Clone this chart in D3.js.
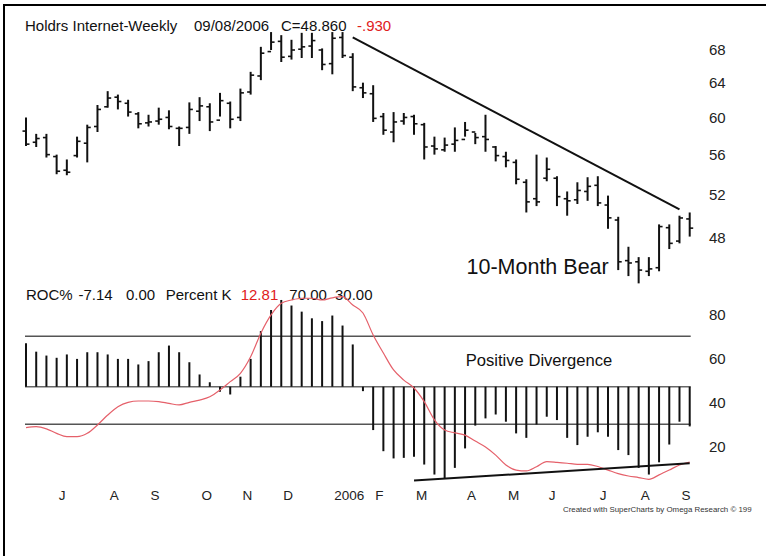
<!DOCTYPE html>
<html><head><meta charset="utf-8">
<script src="https://cdn.jsdelivr.net/npm/d3@7"></script>
<style>
html,body{margin:0;padding:0;background:#fff;}
svg{display:block;font-family:"Liberation Sans",Arial,sans-serif;}
</style></head><body>
<svg id="c" width="766" height="556"></svg>
<script>
const dates = ["2005-06-10","2005-06-17","2005-06-24","2005-07-01","2005-07-08","2005-07-15","2005-07-22","2005-07-29",
"2005-08-05","2005-08-12","2005-08-19","2005-08-26","2005-09-02","2005-09-09","2005-09-16","2005-09-23","2005-09-30",
"2005-10-07","2005-10-14","2005-10-21","2005-10-28","2005-11-04","2005-11-11","2005-11-18","2005-11-25",
"2005-12-02","2005-12-09","2005-12-16","2005-12-23","2005-12-30","2006-01-06","2006-01-13","2006-01-20","2006-01-27",
"2006-02-03","2006-02-10","2006-02-17","2006-02-24","2006-03-03","2006-03-10","2006-03-17","2006-03-24","2006-03-31",
"2006-04-07","2006-04-14","2006-04-21","2006-04-28","2006-05-05","2006-05-12","2006-05-19","2006-05-26",
"2006-06-02","2006-06-09","2006-06-16","2006-06-23","2006-06-30","2006-07-07","2006-07-14","2006-07-21","2006-07-28",
"2006-08-04","2006-08-11","2006-08-18","2006-08-25","2006-09-01","2006-09-08"];

const high = [60.0,58.2,58.2,56.0,55.5,57.9,59.2,61.4,63.0,62.6,62.0,60.6,60.3,61.1,60.8,59.0,61.7,62.3,61.6,62.8,61.8,63.3,65.3,68.4,70.3,69.9,69.3,70.2,70.2,68.2,70.3,70.3,67.6,64.0,63.7,60.5,60.6,60.5,60.3,59.4,57.9,57.8,58.9,59.5,58.3,60.3,56.9,56.3,55.5,53.5,56.0,55.7,53.8,52.3,53.2,53.7,53.8,51.9,49.9,47.2,46.3,46.3,49.2,49.2,50.0,50.3];
const low  = [56.9,56.8,55.7,54.0,53.9,55.7,55.2,58.4,61.1,60.9,60.1,58.8,59.0,59.2,58.7,56.9,58.2,59.6,58.5,60.1,58.8,59.6,62.6,64.3,68.0,66.5,66.8,67.0,67.0,65.5,65.0,67.0,63.0,62.2,59.5,58.1,57.3,59.2,58.1,55.5,56.0,56.3,56.3,57.9,57.1,56.3,55.3,54.7,53.0,50.3,50.9,53.3,50.9,50.0,51.1,51.4,50.9,48.8,45.2,44.7,44.1,44.7,45.1,47.0,47.5,48.1];
const open = [58.5,57.3,57.8,55.8,54.4,55.9,57.2,59.0,61.2,62.3,61.6,60.4,59.4,59.6,60.0,58.8,58.9,60.7,61.2,59.7,61.6,60.0,62.9,64.8,67.8,69.1,67.2,68.1,68.5,68.0,66.3,69.6,67.1,63.4,62.7,60.1,58.4,59.6,60.1,59.2,56.9,56.5,57.1,57.6,58.4,57.9,56.8,55.8,55.2,53.2,51.6,53.6,53.6,51.6,51.5,52.3,52.9,51.0,49.6,46.0,45.9,45.1,45.4,48.9,47.7,49.7];
const close= [57.1,57.7,56.0,54.3,54.2,57.4,58.9,60.9,62.2,61.8,60.6,59.3,59.5,59.8,59.0,58.8,60.9,61.3,59.5,61.9,59.8,62.8,64.9,67.6,69.0,67.1,68.0,68.4,69.2,66.2,69.5,67.3,63.5,62.8,59.9,58.6,59.5,60.0,59.3,56.8,56.6,57.0,57.5,58.6,57.8,57.6,55.9,55.4,53.5,51.3,51.3,54.5,51.8,51.4,52.4,52.8,51.2,49.8,45.9,45.8,45.2,45.3,49.0,47.5,49.79,48.86];

const roc = [7.8,6.3,5.6,5.2,5.8,5.0,6.2,6.2,5.8,5.0,5.0,4.0,4.6,6.2,7.4,6.2,4.4,2.2,0.8,-0.9,-1.4,1.8,5.0,10.0,13.8,15.6,14.6,13.5,12.3,11.8,12.8,11.0,7.6,-0.8,-7.8,-11.6,-12.9,-12.8,-12.6,-14.0,-15.8,-16.5,-14.6,-11.1,-7.0,-5.7,-5.0,-6.3,-8.4,-9.2,-6.8,-5.4,-6.0,-9.2,-10.5,-9.0,-8.2,-9.0,-11.4,-12.3,-14.6,-15.8,-13.6,-10.4,-6.3,-7.14];

const pctK = [28.5,28.9,27.9,25.9,24.4,24.4,25.9,29.7,34.2,38.0,40.0,40.6,40.6,40.3,39.5,38.8,40.0,41.0,42.5,45.6,49.4,53.2,60.7,71.4,79.7,85.0,86.5,87.3,87.3,86.5,87.5,88.0,84.2,80.6,70.6,62.4,54.7,50.1,46.5,40.3,32.0,27.4,26.1,25.1,22.4,19.7,16.0,11.5,9.2,8.8,10.7,13.0,12.7,12.3,11.8,11.8,10.8,9.2,7.6,6.5,5.8,5.0,7.0,9.2,11.5,12.81];

const priceTicks = [48,52,56,60,64,68];
const kTicks = [20,40,60,80];
const kLevels = [70,30];
const monthLabels = ["J","A","S","O","N","D","2006","F","M","A","M","J","J","A","S"];
const resistance = [["2006-01-20",69.6],["2006-09-01",50.6]];
const divergence = [["2006-03-03",4.4],["2006-09-08",12.3]];

const parse = d3.timeParse("%Y-%m-%d");
const dts = dates.map(parse);
const bars = dts.map((d,i)=>({d,h:high[i],l:low[i],o:open[i],c:close[i],r:roc[i],k:pctK[i]}));

const svg = d3.select("#c");
const x = d3.scaleTime().domain([dts[0], dts[dts.length-1]]).range([26, 689.7]);
const yP = d3.scaleLog().domain([48,68]).range([237.7,50]);
const yK = d3.scaleLinear().domain([20,80]).range([446.3,314.3]);
const yR = d3.scaleLinear().domain([-10,10]).range([442.3,331.1]);

// frame
svg.append("line").attr("x1",3).attr("x2",766).attr("y1",5).attr("y2",5).attr("stroke","#000").attr("stroke-width",2);
svg.append("line").attr("x1",4).attr("x2",4).attr("y1",4).attr("y2",556).attr("stroke","#000").attr("stroke-width",2);

// header texts
const hdr = svg.append("g").attr("font-size",15).attr("fill","#111");
[["Holdrs Internet-Weekly",25,"#111"],["09/08/2006",194,"#111"],["C=48.860",281,"#111"],["-.930",357,"#e0201c"]]
  .forEach(([t,xx,col])=>hdr.append("text").attr("x",xx).attr("y",30.5).attr("fill",col).text(t));

// price bars
const pb = svg.append("g").attr("stroke","#111");
pb.selectAll("line.v").data(bars).join("line").attr("class","v")
  .attr("x1",d=>x(d.d)).attr("x2",d=>x(d.d)).attr("y1",d=>yP(d.h)).attr("y2",d=>yP(d.l)).attr("stroke-width",2);
pb.selectAll("line.o").data(bars).join("line").attr("class","o")
  .attr("x1",d=>x(d.d)-3.5).attr("x2",d=>x(d.d)).attr("y1",d=>yP(d.o)).attr("y2",d=>yP(d.o)).attr("stroke-width",1.6);
pb.selectAll("line.c").data(bars).join("line").attr("class","c")
  .attr("x1",d=>x(d.d)).attr("x2",d=>x(d.d)+3.5).attr("y1",d=>yP(d.c)).attr("y2",d=>yP(d.c)).attr("stroke-width",1.6);

// resistance line
svg.append("line")
  .attr("x1",x(parse(resistance[0][0]))).attr("y1",yP(resistance[0][1]))
  .attr("x2",x(parse(resistance[1][0]))).attr("y2",yP(resistance[1][1]))
  .attr("stroke","#111").attr("stroke-width",2);

// price axis
const pa = svg.append("g").attr("transform","translate(706,0)")
  .call(d3.axisRight(yP).tickValues(priceTicks).tickSize(0).tickFormat(d3.format("d")));
pa.select(".domain").remove();
pa.selectAll("text").attr("font-size",15).attr("font-family","Liberation Sans, Arial, sans-serif").attr("fill","#222");

svg.append("text").attr("x",466.5).attr("y",273.5).attr("font-size",21.5).attr("fill","#111").text("10-Month Bear");

// lower panel header
const lh = svg.append("g").attr("font-size",15);
[["ROC%",26,"#111"],["-7.14",78.5,"#111"],["0.00",126,"#111"],["Percent K",165.7,"#111"],["12.81",240.7,"#e0201c"],["70.00",289.3,"#111"],["30.00",335,"#111"]]
  .forEach(([t,xx,col])=>lh.append("text").attr("x",xx).attr("y",299.5).attr("fill",col).text(t));

// horizontal levels
const x0 = x(dts[0]), x1 = x(dts[dts.length-1]);
svg.selectAll("line.lvl").data(kLevels).join("line").attr("class","lvl")
  .attr("x1",x0-1).attr("x2",x1+1).attr("y1",d=>yK(d)).attr("y2",d=>yK(d))
  .attr("stroke","#555").attr("stroke-width",1.5);
svg.append("line").attr("x1",x0-1).attr("x2",x1+1).attr("y1",yR(0)).attr("y2",yR(0))
  .attr("stroke","#666").attr("stroke-width",1.5);

// ROC histogram
svg.append("g").selectAll("line").data(bars).join("line")
  .attr("x1",d=>x(d.d)).attr("x2",d=>x(d.d)).attr("y1",yR(0)).attr("y2",d=>yR(d.r))
  .attr("stroke","#111").attr("stroke-width",2);

// Percent K line
svg.append("path").datum(bars)
  .attr("d",d3.line().x(d=>x(d.d)).y(d=>yK(d.k)).curve(d3.curveMonotoneX))
  .attr("fill","none").attr("stroke","#e5606a").attr("stroke-width",1.2);

// divergence line
svg.append("line")
  .attr("x1",x(parse(divergence[0][0]))).attr("y1",yK(divergence[0][1]))
  .attr("x2",x(parse(divergence[1][0]))).attr("y2",yK(divergence[1][1]))
  .attr("stroke","#111").attr("stroke-width",2);

svg.append("text").attr("x",465.7).attr("y",365.5).attr("font-size",16.6).attr("fill","#111").text("Positive Divergence");

// K axis
const ka = svg.append("g").attr("transform","translate(706,0)")
  .call(d3.axisRight(yK).tickValues(kTicks).tickSize(0));
ka.select(".domain").remove();
ka.selectAll("text").attr("font-size",15).attr("font-family","Liberation Sans, Arial, sans-serif").attr("fill","#222");

// month axis: first bar of each month
const firsts = Array.from(d3.group(dts, d=>d3.timeFormat("%Y-%m")(d)).values(), v=>v[0]).slice(1);
const ma = svg.append("g").attr("transform","translate(0,490)")
  .call(d3.axisBottom(x).tickValues(firsts).tickSize(0).tickFormat((d,i)=>monthLabels[i]));
ma.select(".domain").remove();
ma.selectAll("text").attr("font-size",13.5).attr("font-family","Liberation Sans, Arial, sans-serif")
  .attr("text-anchor","start").attr("dx",1.5).attr("dy","0.5em").attr("fill","#222");

// credit
svg.append("clipPath").attr("id","cl").append("rect").attr("x",0).attr("y",0).attr("width",752).attr("height",556);
svg.append("text").attr("clip-path","url(#cl)").attr("x",563).attr("y",512).attr("font-size",8)
  .attr("textLength",193).attr("lengthAdjust","spacingAndGlyphs").attr("fill","#333")
  .text("Created with SuperCharts by Omega Research \u00A9 1997");
</script>
</body></html>
